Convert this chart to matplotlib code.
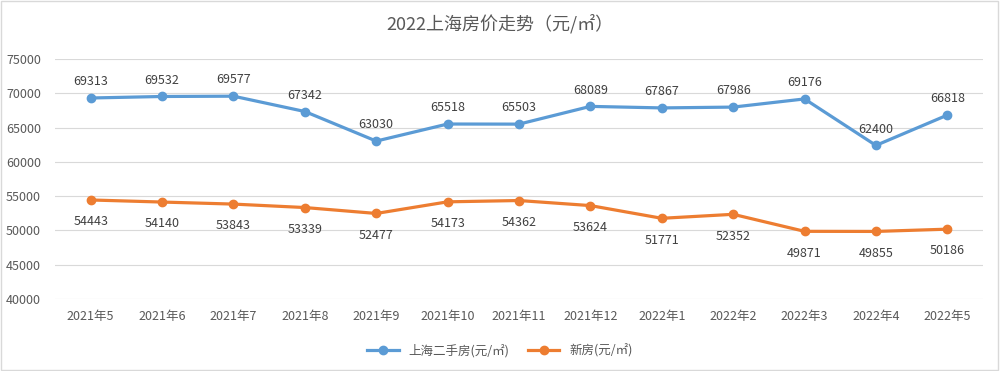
import matplotlib.pyplot as plt
import matplotlib.patches as patches

plt.rcParams['font.family'] = ['Noto Sans CJK SC', 'DejaVu Sans']

months = ['2021年5', '2021年6', '2021年7', '2021年8', '2021年9', '2021年10', '2021年11',
          '2021年12', '2022年1', '2022年2', '2022年3', '2022年4', '2022年5']
second_hand = [69313, 69532, 69577, 67342, 63030, 65518, 65503, 68089, 67867, 67986, 69176, 62400, 66818]
new_house = [54443, 54140, 53843, 53339, 52477, 54173, 54362, 53624, 51771, 52352, 49871, 49855, 50186]
yticks = [40000, 45000, 50000, 55000, 60000, 65000, 70000, 75000]

blue = '#5B9BD5'
orange = '#ED7D31'
txt = '#595959'

fig = plt.figure(figsize=(10, 3.71), dpi=100)
ax = fig.add_axes([0.055, 0.194, 0.928, 0.647])
x = list(range(len(months)))

ax.plot(x, second_hand, color=blue, lw=2.3, marker='o', ms=6, label='上海二手房(元/㎡)', zorder=3)
ax.plot(x, new_house, color=orange, lw=2.3, marker='o', ms=6, label='新房(元/㎡)', zorder=3)

for i in x:
    ax.annotate(str(second_hand[i]), (i, second_hand[i]), xytext=(0, 7), textcoords='offset points',
                ha='center', va='bottom', fontsize=9, color='#404040')
    ax.annotate(str(new_house[i]), (i, new_house[i]), xytext=(0, -11), textcoords='offset points',
                ha='center', va='top', fontsize=9, color='#404040')

ax.set_xlim(-0.5, 12.5)
ax.set_ylim(40000, 75000)
ax.set_yticks(yticks)
ax.set_xticks(x)
ax.set_xticklabels(months)
ax.tick_params(axis='both', length=0, labelsize=9, colors=txt)
ax.tick_params(axis='x', pad=8)
ax.tick_params(axis='y', pad=10)
ax.grid(axis='y', color='#D9D9D9', lw=0.8)
ax.set_axisbelow(True)
for s in ax.spines.values():
    s.set_visible(False)

fig.text(0.5, 0.935, '2022上海房价走势（元/㎡）', ha='center', va='center', fontsize=13, color=txt)

fig.legend(loc='center', bbox_to_anchor=(0.5, 0.055), ncol=2, frameon=False, fontsize=9,
           labelcolor=txt, handlelength=2.5, columnspacing=1.5)

fig.patches.append(patches.Rectangle((0.001, 0.002), 0.997, 0.995, transform=fig.transFigure,
                                     fill=False, edgecolor='#D9D9D9', lw=1))

fig.savefig('out.png', dpi=100)
